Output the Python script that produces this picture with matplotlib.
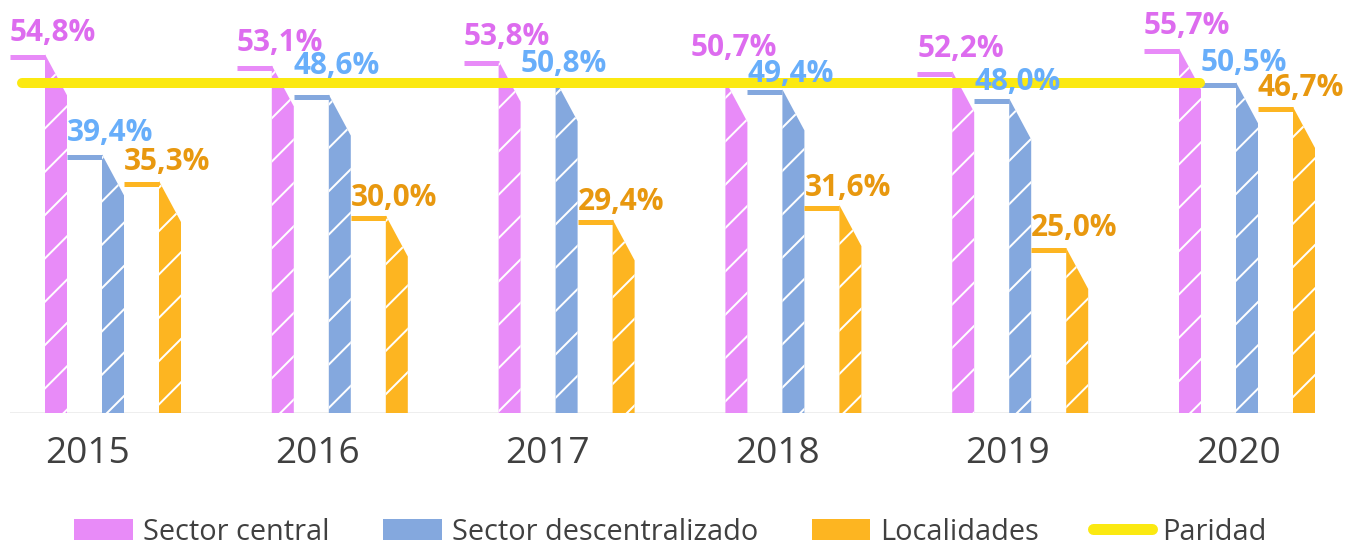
import matplotlib
matplotlib.use('Agg')
import matplotlib.pyplot as plt
from matplotlib.patches import Polygon, Patch
from matplotlib.lines import Line2D

# ---- data ----
years = ['2015', '2016', '2017', '2018', '2019', '2020']
central = [54.8, 53.1, 53.8, 50.7, 52.2, 55.7]
descentralizado = [39.4, 48.6, 50.8, 49.4, 48.0, 50.5]
localidades = [35.3, 30.0, 29.4, 31.6, 25.0, 46.7]
paridad = 50.8
series_names = ['Sector central', 'Sector descentralizado', 'Localidades']
paridad_name = 'Paridad'

# ---- style ----
bar_colors = ['#E88BF8', '#84A8DE', '#FDB521']
text_colors = ['#DD6CEF', '#68AEFA', '#E8980F']
yellow = '#FBE911'
grey_text = '#404040'
# label lift above each value line (pixels), as placed in the reference
label_lift_px = [
    [16, 17, 18, 27, 16.5, 16.5],
    [16, 23, 11, 10, 11.5, 14],
    [13.5, 11.5, 12, 11.5, 14.5, 13],
]

plt.rcParams['font.family'] = ['Open Sans', 'DejaVu Sans']
DPI = 130
W_PX, H_PX = 1346, 541
plt.rcParams['hatch.linewidth'] = 2 * 72 / DPI
plt.rcParams['hatch.color'] = 'white'

PX_X = 226.8   # pixels per year group
PX_Y = 6.5     # pixels per percent
BASE_PX = 413  # baseline from top
LEFT_PX = 10

P = 57.0 / PX_X      # element period in a group
L = 35.0 / PX_X      # top line length
Wd = 22.0 / PX_X     # hatched strip width
drop = 41.0 / PX_Y   # slant drop
half = 2.5 / PX_Y

def px2pt(p):
    return p * 72 / DPI

fig = plt.figure(figsize=(W_PX / DPI, H_PX / DPI), dpi=DPI)
ax = fig.add_axes([0, (H_PX - BASE_PX) / H_PX, 1, BASE_PX / H_PX])
ax.set_xlim(-LEFT_PX / PX_X, (W_PX - LEFT_PX) / PX_X)
ax.set_ylim(0, BASE_PX / PX_Y)
for sp in ax.spines.values():
    sp.set_visible(False)
ax.set_yticks([])

all_series = [central, descentralizado, localidades]
for s, vals in enumerate(all_series):
    for i, v in enumerate(vals):
        x0 = i + s * P
        xr = x0 + L
        ax.plot([x0, xr], [v, v], color=bar_colors[s], lw=px2pt(5),
                solid_capstyle='butt', zorder=2)
        poly = Polygon([(xr, 0), (xr, v + half), (xr + Wd, v + half - drop), (xr + Wd, 0)],
                       closed=True, facecolor=bar_colors[s], edgecolor='white',
                       lw=0, hatch='/', zorder=2)
        ax.add_patch(poly)
        ax.text(x0, v + label_lift_px[s][i] / PX_Y, f"{v:.1f}".replace('.', ',') + '%',
                color=text_colors[s], fontsize=16.5, fontweight='bold',
                ha='left', va='baseline', zorder=5)

# baseline
n = len(years)
ax.hlines(0, 0, (n - 1) + 2 * P + L + Wd, color='#EEEEEE', lw=px2pt(2), zorder=1)

# parity line
ax.plot([12 / PX_X, (n - 1) + 56 / PX_X], [paridad, paridad], color=yellow,
        lw=px2pt(10), solid_capstyle='round', zorder=3)

# year ticks
tick_pos = [(87.5 - LEFT_PX) / PX_X + i * 230.1 / PX_X for i in range(n)]
ax.set_xticks(tick_pos, years)
ax.tick_params(axis='x', length=0, labelsize=20.5, labelcolor=grey_text, pad=12.5)

# legend
handles = [Patch(facecolor=c, edgecolor='none') for c in bar_colors]
handles.append(Line2D([], [], color=yellow, lw=px2pt(11), solid_capstyle='round'))
fig.legend(handles, series_names + [paridad_name], loc='center',
           bbox_to_anchor=(670 / W_PX, 9 / H_PX), ncol=4, frameon=False,
           fontsize=16, handlelength=2.04, handleheight=0.76, handletextpad=0.35,
           columnspacing=1.85, labelcolor=grey_text)

fig.savefig('out.png', dpi=DPI, facecolor='white')
